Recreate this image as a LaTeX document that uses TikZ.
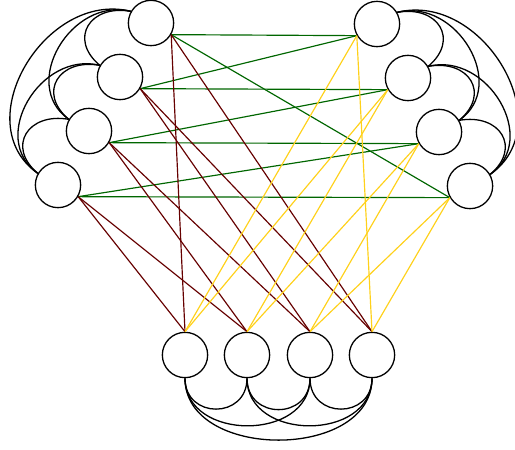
\documentclass[tikz,border=0pt]{standalone}
\usepackage{color}
\usepackage{tikz}

\definecolor{linkgreen}{HTML}{006600}
\definecolor{linkred}{HTML}{660000}
\definecolor{linkyellow}{HTML}{FFD11A}

\begin{document}
\begin{tikzpicture}[x=0.03cm, y=0.03cm,
	vertex/.style={shape=circle, draw=black, line width=1.1pt, minimum size=1.36cm, inner sep=0pt},
	arc/.style={draw=black, line width=1.1pt},
	glink/.style={draw=linkgreen, line width=1pt},
	rlink/.style={draw=linkred, line width=1pt},
	ylink/.style={draw=linkyellow, line width=1pt}]
	
	\useasboundingbox (0, 0) rectangle (515, 449);
	
	\node[vertex] (l1) at (151, 426) {};
	\node[vertex] (l2) at (120, 372) {};
	\node[vertex] (l3) at (89, 318)  {};
	\node[vertex] (l4) at (58, 264)  {};
	\node[vertex] (r1) at (377, 425) {};
	\node[vertex] (r2) at (408, 371) {};
	\node[vertex] (r3) at (439, 317) {};
	\node[vertex] (r4) at (470, 263) {};
	\node[vertex] (b1) at (185, 94)  {};
	\node[vertex] (b2) at (247, 94)  {};
	\node[vertex] (b3) at (310, 94)  {};
	\node[vertex] (b4) at (372, 94)  {};
	
	% left to right
	\path[-, glink] (l1.-30) edge (r1.210);
	\path[-, glink] (l1.-30) edge (r4.210);
	\path[-, glink] (l2.-30) edge (r1.210);
	\path[-, glink] (l2.-30) edge (r2.210);
	\path[-, glink] (l3.-30) edge (r2.210);
	\path[-, glink] (l3.-30) edge (r3.210);
	\path[-, glink] (l4.-30) edge (r3.210);
	\path[-, glink] (l4.-30) edge (r4.210);
	
	% left to bottom
	\path[-, rlink] (l1.-30) edge (b1.north);
	\path[-, rlink] (l1.-30) edge (b4.north);
	\path[-, rlink] (l2.-30) edge (b3.north);
	\path[-, rlink] (l2.-30) edge (b4.north);
	\path[-, rlink] (l3.-30) edge (b2.north);
	\path[-, rlink] (l3.-30) edge (b3.north);
	\path[-, rlink] (l4.-30) edge (b1.north);
	\path[-, rlink] (l4.-30) edge (b2.north);
	
	% right to bottom
	\path[-, ylink] (r1.210) edge (b1.north);
	\path[-, ylink] (r1.210) edge (b4.north);
	\path[-, ylink] (r2.210) edge (b1.north);
	\path[-, ylink] (r2.210) edge (b2.north);
	\path[-, ylink] (r3.210) edge (b2.north);
	\path[-, ylink] (r3.210) edge (b3.north);
	\path[-, ylink] (r4.210) edge (b3.north);
	\path[-, ylink] (r4.210) edge (b4.north);
	
	% arcs inside the groups
	\path[-, arc] (l1.150) edge[out=170, in=140, looseness=1.7] (l2.150);
	\path[-, arc] (l2.150) edge[out=170, in=140, looseness=1.7] (l3.150);
	\path[-, arc] (l3.150) edge[out=170, in=140, looseness=1.7] (l4.150);
	\path[-, arc] (l1.150) edge[out=166, in=145, looseness=1.25] (l3.150);
	\path[-, arc] (l2.150) edge[out=166, in=145, looseness=1.25] (l4.150);
	\path[-, arc] (l1.150) edge[out=166, in=145, looseness=1.2] (l4.150);
	
	\path[-, arc] (r1.30) edge[out=10, in=40, looseness=1.7] (r2.30);
	\path[-, arc] (r2.30) edge[out=10, in=40, looseness=1.7] (r3.30);
	\path[-, arc] (r3.30) edge[out=10, in=40, looseness=1.7] (r4.30);
	\path[-, arc] (r1.30) edge[out=14, in=35, looseness=1.25] (r3.30);
	\path[-, arc] (r2.30) edge[out=14, in=35, looseness=1.25] (r4.30);
	\path[-, arc] (r1.30) edge[out=14, in=35, looseness=1.2] (r4.30);
	
	\path[-, arc] (b1.south) edge[out=-90, in=-90, looseness=1.7] (b2.south);
	\path[-, arc] (b2.south) edge[out=-90, in=-90, looseness=1.7] (b3.south);
	\path[-, arc] (b3.south) edge[out=-90, in=-90, looseness=1.7] (b4.south);
	\path[-, arc] (b1.south) edge[out=-90, in=-90, looseness=1.3] (b3.south);
	\path[-, arc] (b2.south) edge[out=-90, in=-90, looseness=1.3] (b4.south);
	\path[-, arc] (b1.south) edge[out=-90, in=-90, looseness=1.13] (b4.south);
	
\end{tikzpicture}
\end{document}
